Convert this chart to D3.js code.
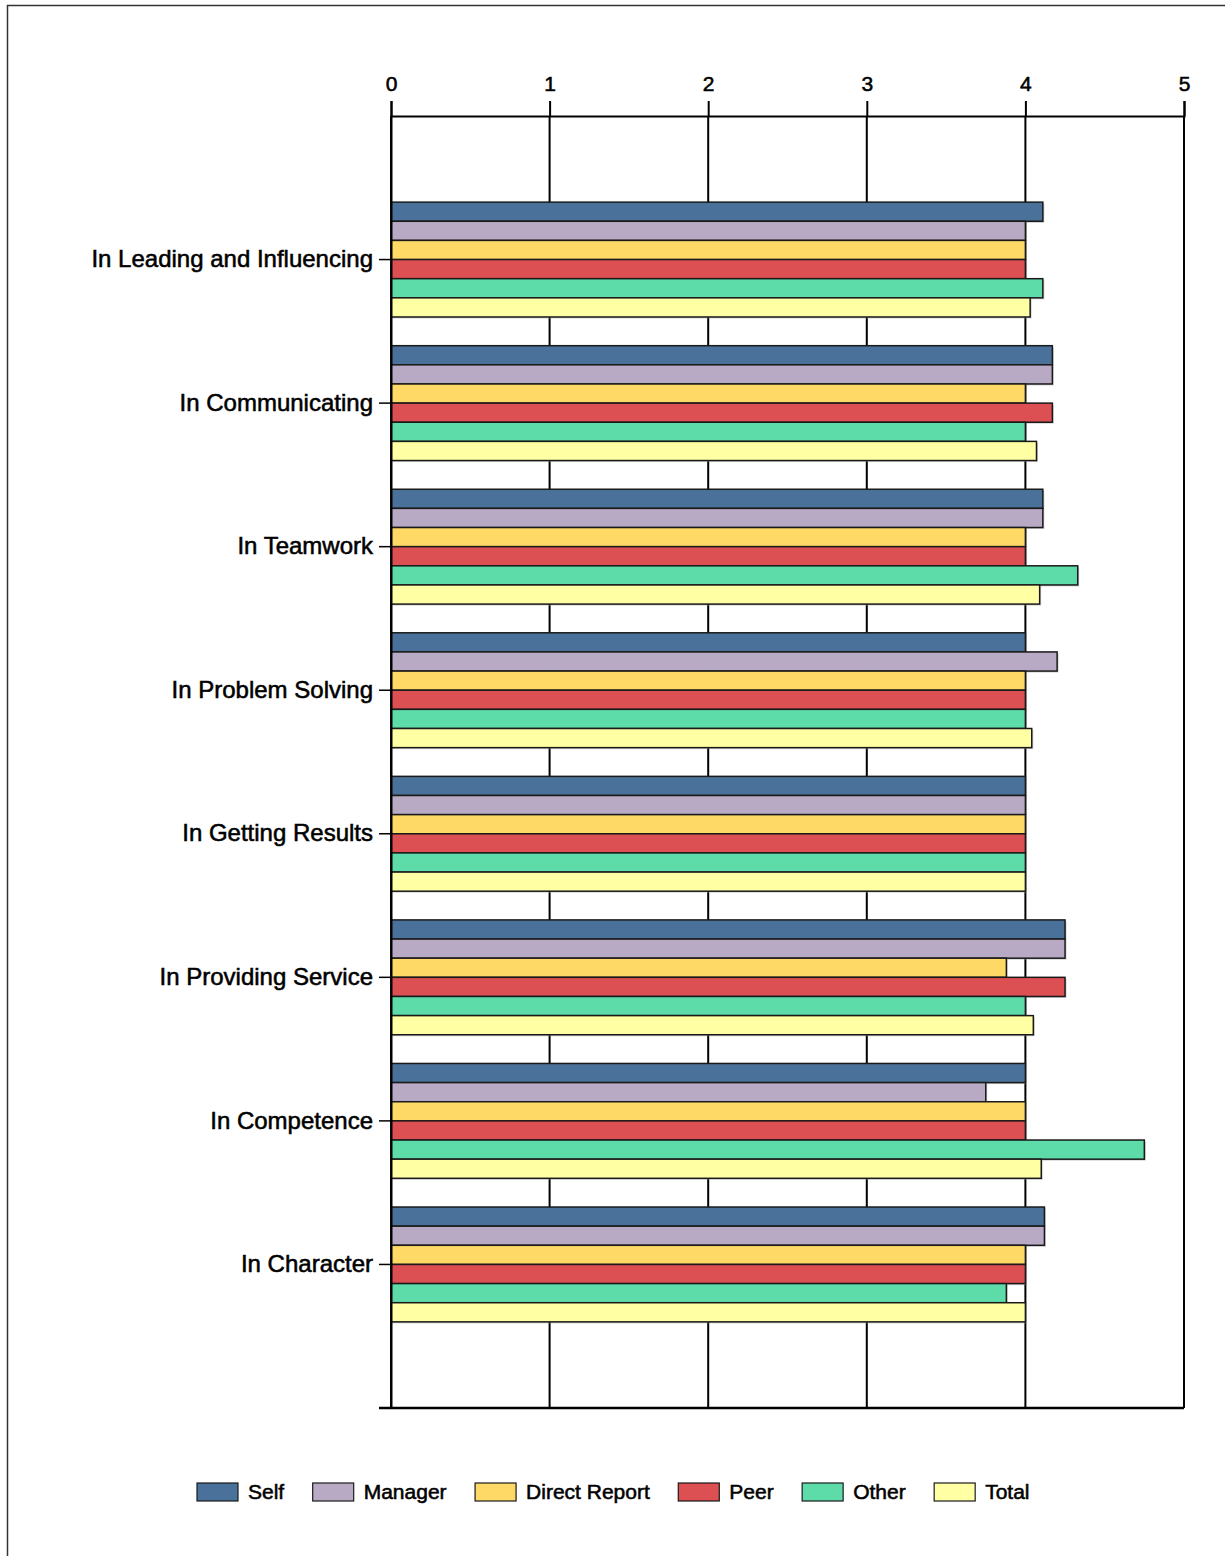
<!DOCTYPE html>
<html>
<head>
<meta charset="utf-8">
<script src="https://cdn.jsdelivr.net/npm/d3@7"></script>
<style>
  html, body { margin: 0; padding: 0; background: #fff; }
  svg { display: block; }
  text { font-family: "Liberation Sans", Arial, sans-serif; fill: #000; stroke: #000; stroke-width: 0.55px; }
</style>
</head>
<body>
<svg id="chart" width="1225" height="1556"></svg>
<script>
// Competency categories, top to bottom
const categories = [
  "In Leading and Influencing",
  "In Communicating",
  "In Teamwork",
  "In Problem Solving",
  "In Getting Results",
  "In Providing Service",
  "In Competence",
  "In Character"
];

// Rater groups
const seriesNames = ["Self", "Manager", "Direct Report", "Peer", "Other", "Total"];

// Average rating per rater group, one value per category
const selfScores     = [4.11, 4.17, 4.11, 4.00, 4.00, 4.25, 4.00, 4.12];
const managerScores  = [4.00, 4.17, 4.11, 4.20, 4.00, 4.25, 3.75, 4.12];
const directScores   = [4.00, 4.00, 4.00, 4.00, 4.00, 3.88, 4.00, 4.00];
const peerScores     = [4.00, 4.17, 4.00, 4.00, 4.00, 4.25, 4.00, 4.00];
const otherScores    = [4.11, 4.00, 4.33, 4.00, 4.00, 4.00, 4.75, 3.88];
const totalScores    = [4.03, 4.07, 4.09, 4.04, 4.00, 4.05, 4.10, 4.00];

const xTicks = [0, 1, 2, 3, 4, 5];

const seriesValues = [selfScores, managerScores, directScores, peerScores, otherScores, totalScores];
const colors = ["#4a7199", "#b8aac4", "#ffd966", "#dc4f52", "#5ddba9", "#ffffa3"];

const svg = d3.select("#chart");

// Outer frame
svg.append("path")
  .attr("d", "M7.5,1556 L7.5,5.5 L1225,5.5")
  .attr("fill", "none")
  .attr("stroke", "#333")
  .attr("stroke-width", 1.5);

const plotLeft = 391, plotRight = 1184, plotTop = 116, plotBottom = 1408;

const x = d3.scaleLinear().domain([0, 5]).range([plotLeft, plotRight]);
const y = d3.scaleBand().domain(categories).range([plotTop, plotBottom])
  .paddingInner(0.2).paddingOuter(0.6);
const yInner = d3.scaleBand().domain(seriesNames).range([0, y.bandwidth()]);

// Vertical grid lines
svg.append("g")
  .selectAll("line")
  .data(xTicks)
  .join("line")
  .attr("x1", d => x(d)).attr("x2", d => x(d))
  .attr("y1", plotTop).attr("y2", plotBottom)
  .attr("stroke", "#000")
  .attr("stroke-width", 2);

// Top axis
const xAxis = svg.append("g")
  .attr("transform", `translate(0,${plotTop})`)
  .call(d3.axisTop(x).tickValues(xTicks).tickFormat(d3.format("d")).tickSize(15).tickPadding(10));
xAxis.select(".domain").attr("stroke", "#000").attr("stroke-width", 2);
xAxis.selectAll(".tick line").attr("stroke", "#000").attr("stroke-width", 2);
xAxis.selectAll(".tick text")
  .style("font-family", "'Liberation Sans', Arial, sans-serif")
  .style("font-size", "21px")
  .attr("fill", "#000");

// Bottom baseline
svg.append("line")
  .attr("x1", plotLeft - 12).attr("x2", plotRight)
  .attr("y1", plotBottom).attr("y2", plotBottom)
  .attr("stroke", "#000").attr("stroke-width", 2.5);

// Bars
const groups = svg.append("g")
  .selectAll("g")
  .data(categories)
  .join("g")
  .attr("transform", d => `translate(0,${y(d)})`);

groups.each(function(cat, ci) {
  const g = d3.select(this);
  // soft drop shadow behind each bar
  seriesNames.forEach((s, si) => {
    const v = seriesValues[si][ci];
    g.append("rect")
      .attr("x", x(0) + 1.5)
      .attr("y", yInner(s) + 1.5)
      .attr("width", x(v) - x(0))
      .attr("height", yInner.bandwidth())
      .attr("fill", "#999")
      .attr("opacity", 0.45);
  });
  seriesNames.forEach((s, si) => {
    const v = seriesValues[si][ci];
    g.append("rect")
      .attr("x", x(0))
      .attr("y", yInner(s))
      .attr("width", x(v) - x(0))
      .attr("height", yInner.bandwidth())
      .attr("fill", colors[si])
      .attr("stroke", "#1a1a1a")
      .attr("stroke-width", 1.5);
  });
});

// Left axis with category labels
const yAxis = svg.append("g")
  .attr("transform", `translate(${plotLeft},0)`)
  .call(d3.axisLeft(y).tickSize(12).tickPadding(6).tickSizeOuter(0));
yAxis.select(".domain").attr("stroke", "#000").attr("stroke-width", 2);
yAxis.selectAll(".tick line").attr("stroke", "#000").attr("stroke-width", 1.5);
yAxis.selectAll(".tick text")
  .style("font-family", "'Liberation Sans', Arial, sans-serif")
  .style("font-size", "24px")
  .attr("fill", "#000");

// Legend
const legend = svg.append("g").attr("transform", "translate(197,1483)");
let lx = 0;
seriesNames.forEach((s, i) => {
  const item = legend.append("g").attr("transform", `translate(${lx},0)`);
  item.append("rect")
    .attr("width", 41).attr("height", 18)
    .attr("fill", colors[i])
    .attr("stroke", "#1a1a1a")
    .attr("stroke-width", 1.2);
  const t = item.append("text")
    .attr("x", 51).attr("y", 16)
    .style("font-size", "21px")
    .text(s);
  lx += 51 + t.node().getComputedTextLength() + 28.5;
});
</script>
</body>
</html>
